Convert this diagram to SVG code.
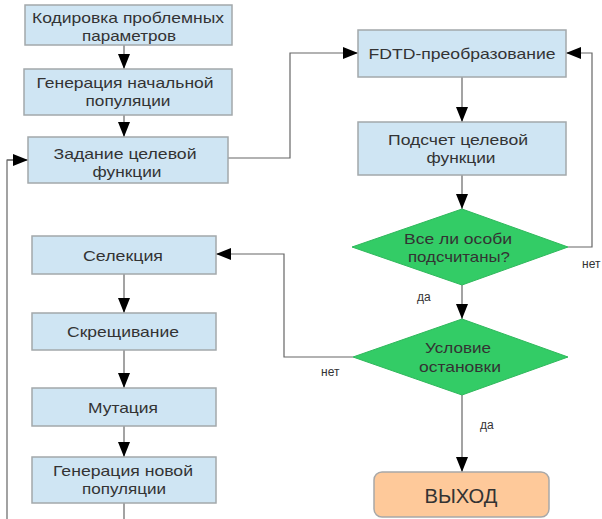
<svg xmlns="http://www.w3.org/2000/svg" width="602" height="519" viewBox="0 0 602 519">
<defs>
<marker id="arr" markerUnits="userSpaceOnUse" markerWidth="15" markerHeight="12" refX="15" refY="6" orient="auto">
<path d="M0,0 L15,6 L0,12 z" fill="#000"/>
</marker>
<style>
.box{fill:#cfe5f3;stroke:#a3a8ab;stroke-width:1.5}
.dia{fill:#33cc66;stroke:#2fb85c;stroke-width:1}
.exit{fill:#fec99a;stroke:#a8a8a8;stroke-width:1.5}
.t{font-family:"Liberation Sans",Arial,sans-serif;font-size:15px;fill:#333;text-anchor:middle}
.big{font-family:"Liberation Sans",Arial,sans-serif;font-size:20px;fill:#333;text-anchor:middle}
.lbl{font-family:"Liberation Sans",Arial,sans-serif;font-size:12px;fill:#333}
.c{fill:none;stroke:#666;stroke-width:1.2}
.ca{fill:none;stroke:#666;stroke-width:1.2;marker-end:url(#arr)}
</style>
</defs>
<g id="connectors">
<line class="ca" x1="124" y1="45" x2="124" y2="69"/>
<line class="ca" x1="124" y1="115" x2="124" y2="137"/>
<polyline class="c" points="7,519 7,160 14,160"/>
<line class="ca" x1="7" y1="160" x2="28" y2="160"/>
<polyline class="ca" points="228,158 290,158 290,53 358,53"/>
<line class="ca" x1="462" y1="77" x2="462" y2="122"/>
<line class="ca" x1="462" y1="175" x2="462" y2="209"/>
<polyline class="ca" points="568,247 592,247 592,53 566,53"/>
<line class="ca" x1="462" y1="285" x2="462" y2="319"/>
<polyline class="ca" points="353,357 284,357 284,254 216,254"/>
<line class="ca" x1="124" y1="274" x2="124" y2="313"/>
<line class="ca" x1="124" y1="350" x2="124" y2="388"/>
<line class="ca" x1="124" y1="426" x2="124" y2="457"/>
<line class="c" x1="124" y1="503" x2="124" y2="519"/>
<line class="ca" x1="462" y1="395" x2="462" y2="472"/>
<text class="lbl" x="582" y="268">нет</text>
<text class="lbl" x="417" y="301">да</text>
<text class="lbl" x="321" y="376">нет</text>
<text class="lbl" x="480" y="429">да</text>
</g>
<g id="n1">
<rect class="box" x="25" y="5" width="207" height="40"/>
<text class="t" x="128" y="23" textLength="192" lengthAdjust="spacingAndGlyphs">Кодировка проблемных</text>
<text class="t" x="129" y="41" textLength="94" lengthAdjust="spacingAndGlyphs">параметров</text>
</g>
<g id="n2">
<rect class="box" x="24" y="69" width="208" height="46"/>
<text class="t" x="125" y="88" textLength="177" lengthAdjust="spacingAndGlyphs">Генерация начальной</text>
<text class="t" x="128" y="106" textLength="85" lengthAdjust="spacingAndGlyphs">популяции</text>
</g>
<g id="n3">
<rect class="box" x="28" y="137" width="200" height="46"/>
<text class="t" x="125" y="159" textLength="143" lengthAdjust="spacingAndGlyphs">Задание целевой</text>
<text class="t" x="127" y="177" textLength="69" lengthAdjust="spacingAndGlyphs">функции</text>
</g>
<g id="n4">
<rect class="box" x="358" y="30" width="208" height="47"/>
<text class="t" x="462" y="59" textLength="187" lengthAdjust="spacingAndGlyphs">FDTD-преобразование</text>
</g>
<g id="n5">
<rect class="box" x="358" y="122" width="208" height="53"/>
<text class="t" x="458" y="145" textLength="140" lengthAdjust="spacingAndGlyphs">Подсчет целевой</text>
<text class="t" x="461" y="163" textLength="69" lengthAdjust="spacingAndGlyphs">функции</text>
</g>
<g id="n6">
<polygon class="dia" points="462,209 568,247 462,285 352,247"/>
<text class="t" x="458" y="244" textLength="108" lengthAdjust="spacingAndGlyphs">Все ли особи</text>
<text class="t" x="459" y="262" textLength="102" lengthAdjust="spacingAndGlyphs">подсчитаны?</text>
</g>
<g id="n7">
<polygon class="dia" points="462,319 568,357 462,395 353,357"/>
<text class="t" x="458" y="353" textLength="66" lengthAdjust="spacingAndGlyphs">Условие</text>
<text class="t" x="460" y="372" textLength="82" lengthAdjust="spacingAndGlyphs">остановки</text>
</g>
<g id="n8">
<rect class="exit" x="374" y="472" width="175" height="45" rx="8" ry="8"/>
<text class="big" x="461" y="503" textLength="73" lengthAdjust="spacingAndGlyphs">ВЫХОД</text>
</g>
<g id="n9">
<rect class="box" x="32" y="236" width="184" height="38"/>
<text class="t" x="123" y="261" textLength="80" lengthAdjust="spacingAndGlyphs">Селекция</text>
</g>
<g id="n10">
<rect class="box" x="32" y="313" width="184" height="37"/>
<text class="t" x="123" y="337" textLength="112" lengthAdjust="spacingAndGlyphs">Скрещивание</text>
</g>
<g id="n11">
<rect class="box" x="32" y="388" width="184" height="38"/>
<text class="t" x="123" y="413" textLength="70" lengthAdjust="spacingAndGlyphs">Мутация</text>
</g>
<g id="n12">
<rect class="box" x="32" y="457" width="184" height="46"/>
<text class="t" x="123" y="476" textLength="140" lengthAdjust="spacingAndGlyphs">Генерация новой</text>
<text class="t" x="124" y="494" textLength="84" lengthAdjust="spacingAndGlyphs">популяции</text>
</g>
</svg>
